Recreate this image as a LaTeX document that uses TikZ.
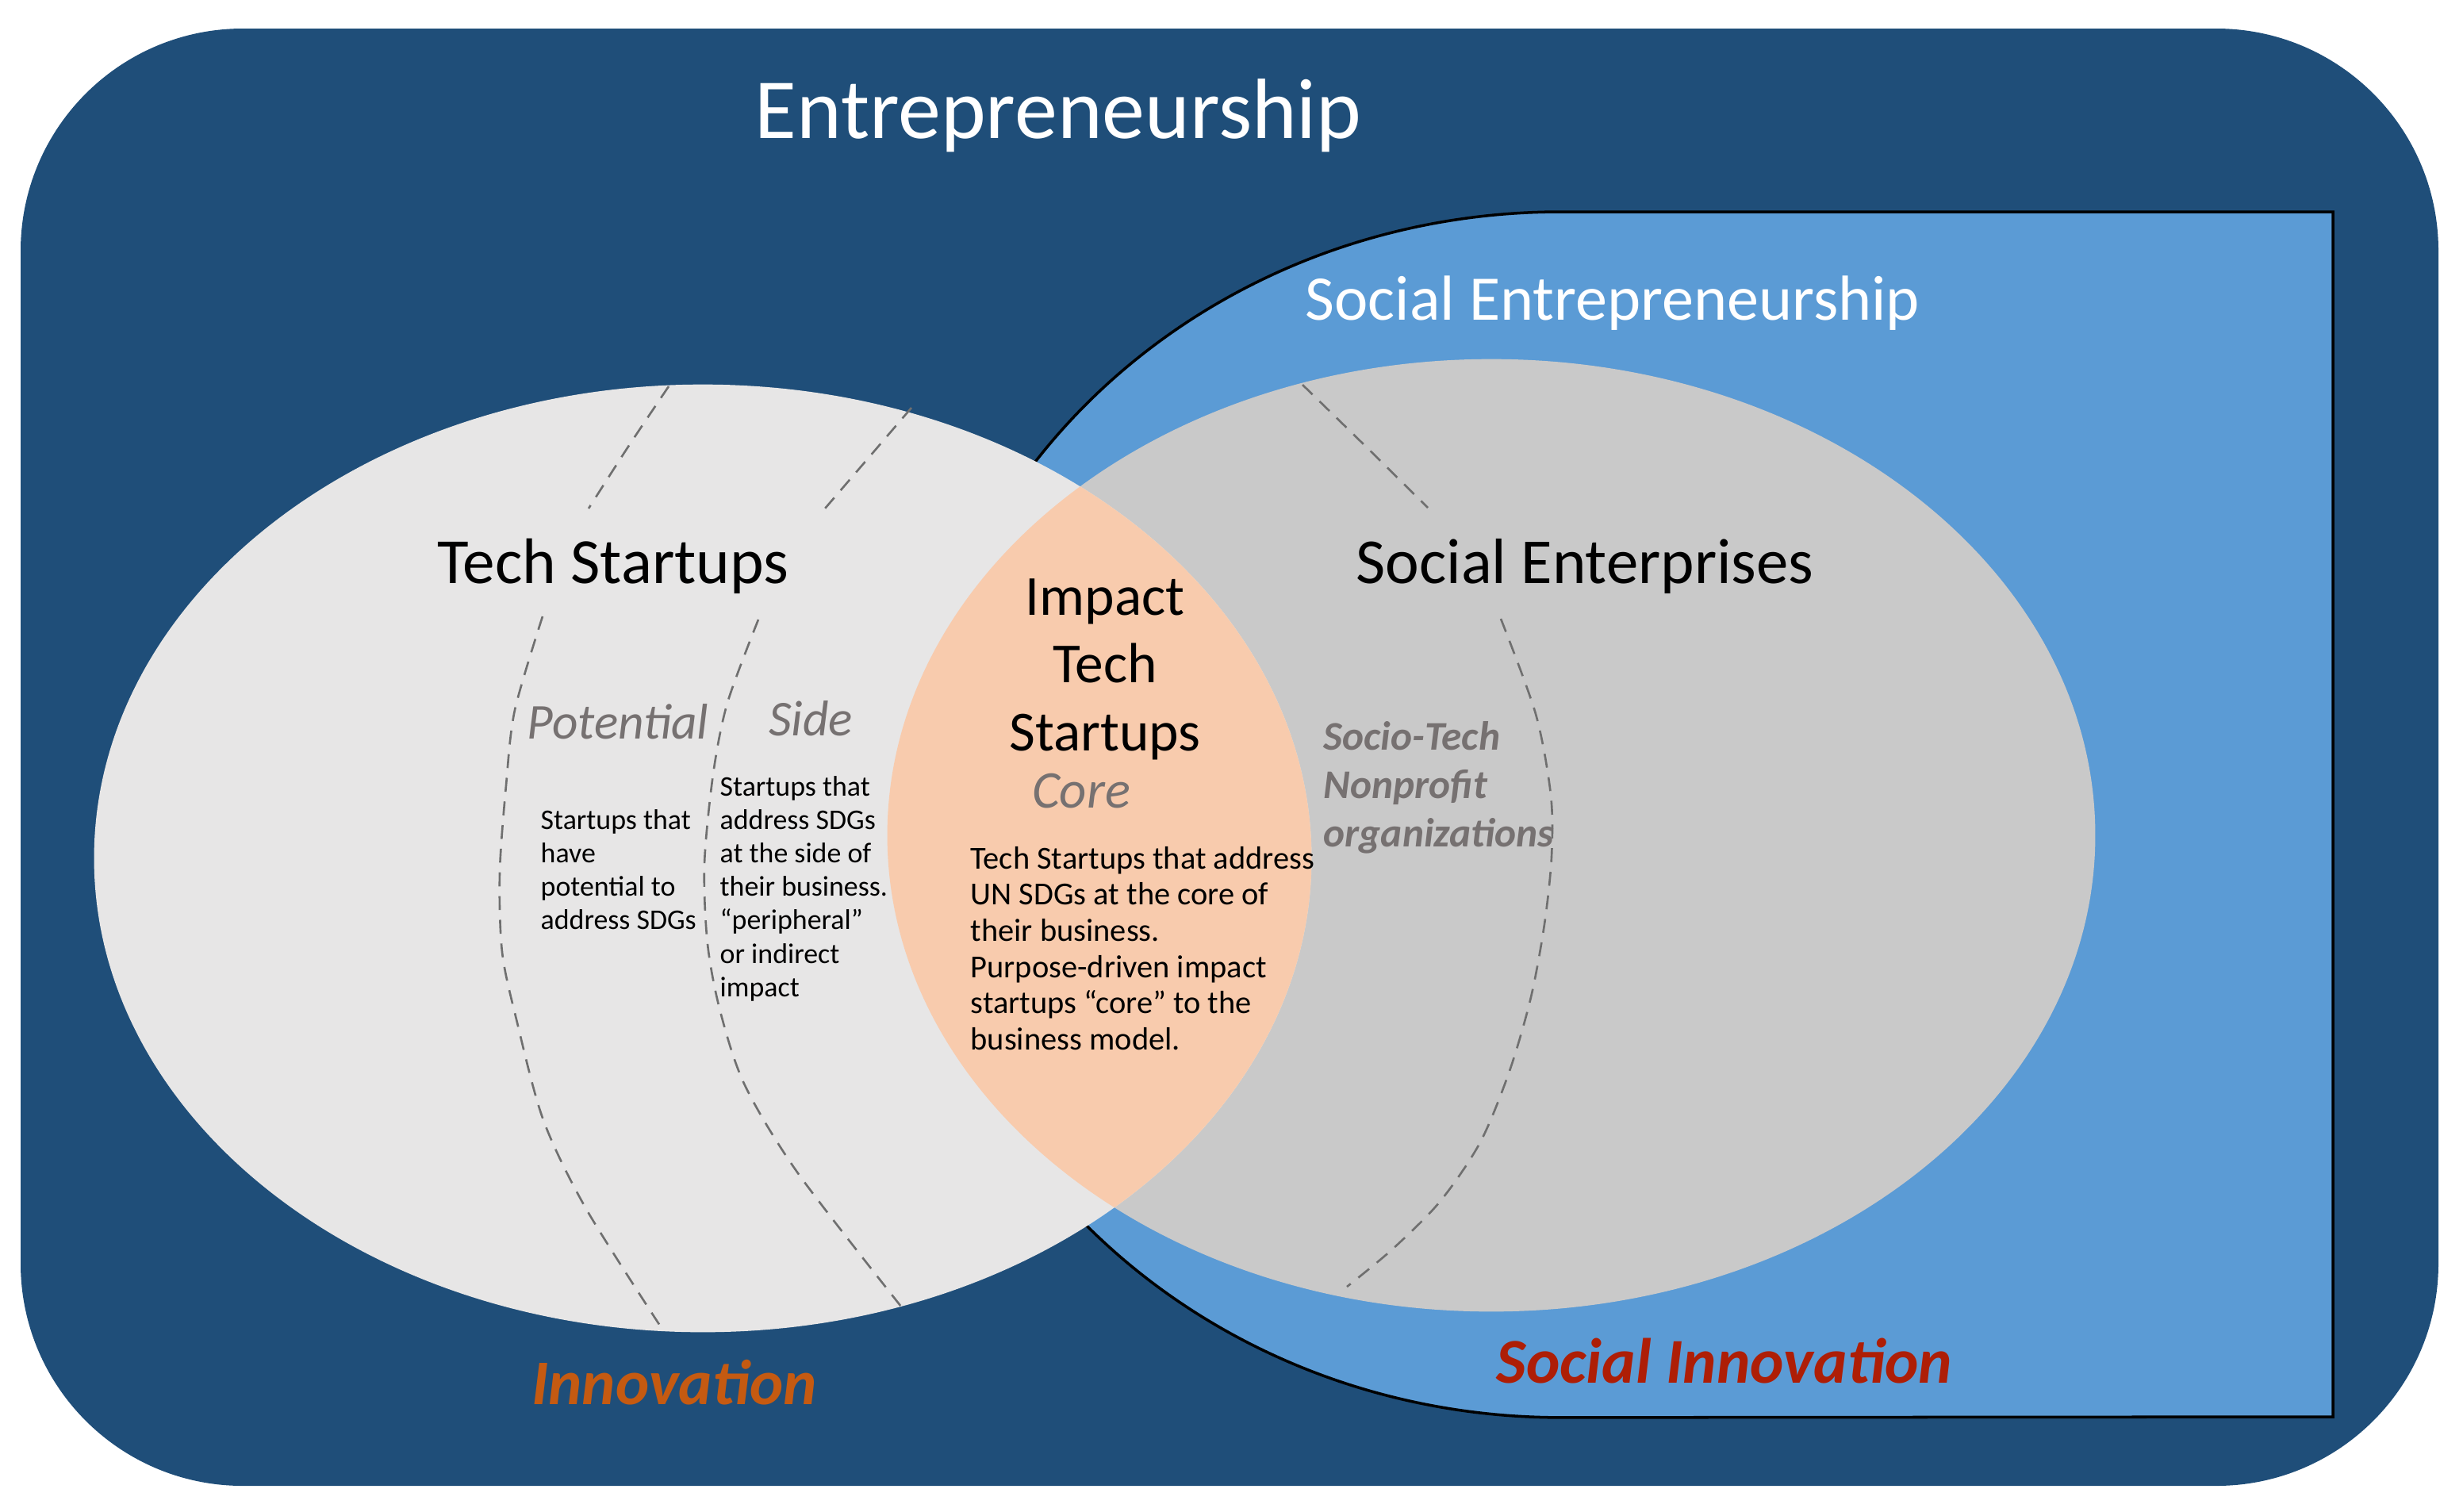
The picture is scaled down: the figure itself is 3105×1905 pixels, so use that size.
\documentclass[tikz,border=0pt]{standalone}
\usepackage{fontspec}
\setmainfont{Carlito}
\definecolor{darkblue}{HTML}{1F4E79}
\definecolor{lblue}{HTML}{5B9BD5}
\definecolor{techgray}{HTML}{E7E6E6}
\definecolor{segray}{HTML}{C9C9C9}
\definecolor{peach}{HTML}{F8CBAD}
\definecolor{labgray}{HTML}{767171}
\definecolor{dashgray}{HTML}{6F6F6F}
\definecolor{innov}{HTML}{C55A11}
\definecolor{socinnov}{HTML}{AE1E06}
\begin{document}
\begin{tikzpicture}[x=0.01cm,y=0.01cm,
  dashline/.style={dashgray, line width=0.75pt, dash pattern=on 5pt off 3.5pt},
  ttl/.style={inner sep=0pt, anchor=base},
  lft/.style={inner sep=0pt, anchor=base west},
  sublab/.style={ttl, labgray, font=\fontsize{18}{21}\selectfont\itshape}]
\useasboundingbox (0,0) rectangle (3105,-1905);
% outer region
\fill[darkblue, rounded corners=2.8cm] (26,-36) rectangle (3074,-1873);
% social entrepreneurship region
\draw[fill=lblue, line width=1pt] (2941,-267) -- (1968,-267)
  arc[start angle=90, end angle=270, x radius=8.17cm, y radius=7.595cm]
  -- (2941,-1786) -- cycle;
% ellipses
\fill[segray] (1880,-1053) ellipse[x radius=7.61cm, y radius=6cm];
\fill[techgray] (886,-1082) ellipse[x radius=7.67cm, y radius=5.97cm];
\begin{scope}
  \clip (886,-1082) ellipse[x radius=7.67cm, y radius=5.97cm];
  \fill[peach] (1880,-1053) ellipse[x radius=7.61cm, y radius=6cm];
\end{scope}
% dashed boundaries
\draw[dashline] plot[smooth] coordinates {(843,-487) (792,-563) (742,-641)};
\draw[dashline] plot[smooth] coordinates {(684,-777) (649,-895) (638,-990) (630,-1100) (633,-1200) (651,-1285) (685,-1412) (739,-1524) (832,-1671)};
\draw[dashline] plot[smooth] coordinates {(1149,-514) (1095,-577) (1040,-641)};
\draw[dashline] plot[smooth] coordinates {(956,-781) (917,-886) (899,-976) (888,-1090) (892,-1190) (908,-1275) (939,-1368) (1006,-1479) (1136,-1647)};
\draw[dashline] plot[smooth] coordinates {(1642,-485) (1721,-562) (1800,-640)};
\draw[dashline] plot[smooth] coordinates {(1892,-780) (1936,-900) (1955,-1002) (1956,-1080) (1947,-1165) (1930,-1257) (1903,-1350) (1866,-1440) (1815,-1515) (1755,-1575) (1698,-1622)};
% titles
\node[ttl, white, font=\fontsize{30.7}{36}\selectfont] (entre) at (1334,-174) {Entrepreneurship};
\node[ttl, white, font=\fontsize{22.8}{27}\selectfont] (socent) at (2033,-403) {Social Entrepreneurship};
\node[ttl, font=\fontsize{23.1}{27}\selectfont] (tech) at (773,-735) {Tech Startups};
\node[ttl, font=\fontsize{23}{27}\selectfont] (se) at (1998,-735) {Social Enterprises};
\node[ttl, font=\fontsize{20.3}{24}\selectfont] (itc) at (1393,-775)
  {\vtop{\baselineskip=24.4pt\halign{\hfil#\hfil\cr Impact\cr Tech\cr Startups\cr}}};
% sub labels
\node[sublab] (pot) at (779,-931) {Potential};
\node[sublab] (side) at (1022,-927) {Side};
\node[sublab, font=\fontsize{19}{22}\selectfont\itshape] (core) at (1363,-1018) {Core};
% descriptions
\node[lft, font=\fontsize{10.2}{12}\selectfont] (pottext) at (681,-1045)
  {\vtop{\baselineskip=12pt\hbox{Startups that}\hbox{have}\hbox{potential to}\hbox{address SDGs}}};
\node[lft, font=\fontsize{10.2}{12}\selectfont] (sidetext) at (907,-1003)
  {\vtop{\baselineskip=12pt\hbox{Startups that}\hbox{address SDGs}\hbox{at the side of}\hbox{their business.}\hbox{“peripheral”}\hbox{or indirect}\hbox{impact}}};
\node[lft, font=\fontsize{11.5}{13}\selectfont] (coretext) at (1223,-1095)
  {\vtop{\baselineskip=13pt\hbox{Tech Startups that address}\hbox{UN SDGs at the core of}\hbox{their business.}\hbox{Purpose-driven impact}\hbox{startups “core” to the}\hbox{business model.}}};
\node[lft, labgray, font=\fontsize{14.6}{17.4}\selectfont\bfseries\itshape] (socio) at (1668,-945)
  {\vtop{\baselineskip=17.4pt\hbox{Socio-Tech}\hbox{Nonprofit}\hbox{organizations}}};
% bottom labels
\node[ttl, innov, font=\fontsize{22.8}{27}\selectfont\bfseries\itshape] (inno) at (850,-1770) {Innovation};
\node[ttl, socinnov, font=\fontsize{22.9}{27}\selectfont\bfseries\itshape] (sinno) at (2174,-1743) {Social Innovation};
\end{tikzpicture}
\end{document}
